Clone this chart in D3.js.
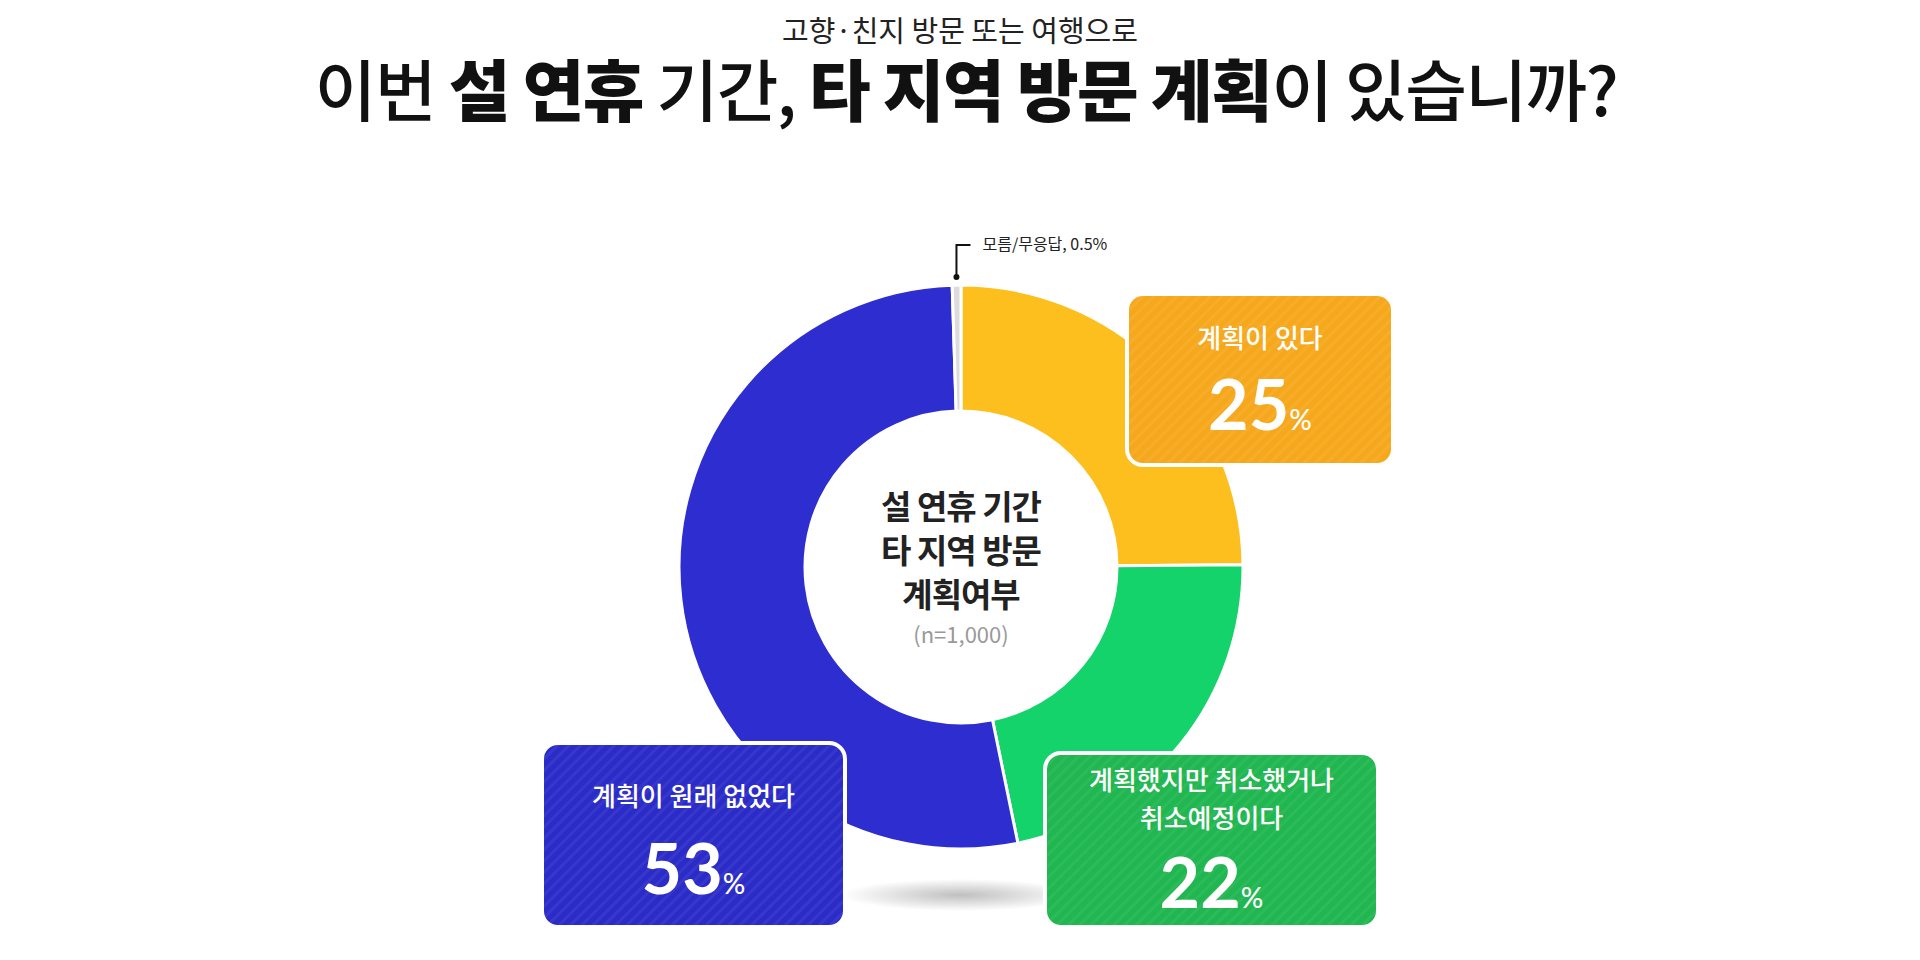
<!DOCTYPE html>
<html><head><meta charset="utf-8">
<script src="https://cdn.jsdelivr.net/npm/d3@7"></script>
<style>body{margin:0;background:#fff}svg{display:block;font-family:"Noto Sans CJK KR","Noto Sans",sans-serif}</style>
</head><body><svg width="1920" height="960"></svg>
<script>
const categories = ["계획이 있다", "계획했지만 취소했거나 취소예정이다", "계획이 원래 없었다", "모름/무응답"];
const values = [25, 22, 53, 0.5];
const sliceColors = ["#fdbf1e", "#13d36a", "#2e2dd0", "#dcdcdc"];
const boxColors = ["#f6a81c", "#20b650", "#2b2bc8"];

const svg = d3.select("svg");
const cx = 961, cy = 567, R = 282, r = 156;

// titles
svg.append("text").attr("x", 960).attr("y", 42).attr("text-anchor", "middle")
  .attr("font-size", 29).attr("fill", "#222").text("고향·친지 방문 또는 여행으로");
const t = svg.append("text").attr("x", 966).attr("y", 116).attr("text-anchor", "middle")
  .attr("font-size", 67).attr("fill", "#111").attr("letter-spacing", -1.5);
[["이번 ", 500], ["설 연휴", 900], [" 기간, ", 500], ["타 지역 방문 계획", 900], ["이 있습니까?", 500]]
  .forEach(([s, w]) => t.append("tspan").attr("font-weight", w).text(s));

const defs = svg.append("defs");
defs.append("radialGradient").attr("id", "sh").selectAll("stop")
  .data([[0, 0.25], [1, 0]]).enter().append("stop")
  .attr("offset", d => d[0]).attr("stop-color", "#000").attr("stop-opacity", d => d[1]);
const pat = defs.append("pattern").attr("id", "stripe").attr("width", 8).attr("height", 8)
  .attr("patternUnits", "userSpaceOnUse").attr("patternTransform", "rotate(45)");
pat.append("rect").attr("width", 3).attr("height", 8).attr("fill", "#fff").attr("opacity", 0.06);

svg.append("ellipse").attr("cx", cx).attr("cy", 895).attr("rx", 120).attr("ry", 16).attr("fill", "url(#sh)");

// donut
const pie = d3.pie().sort(null).value(d => d)(values);
const arc = d3.arc().innerRadius(r).outerRadius(R);
const g = svg.append("g").attr("transform", `translate(${cx},${cy})`);
g.selectAll("path").data(pie).enter().append("path")
  .attr("d", arc).attr("fill", (d, i) => sliceColors[i])
  .attr("stroke", "#fff").attr("stroke-width", 3);

// center text
["설 연휴 기간", "타 지역 방문", "계획여부"].forEach((s, i) =>
  g.append("text").attr("y", -48 + i * 44).attr("text-anchor", "middle")
    .attr("font-size", 33).attr("font-weight", 700).attr("letter-spacing", -1)
    .attr("fill", "#222").text(s));
g.append("text").attr("y", 76).attr("text-anchor", "middle").attr("font-size", 22)
  .attr("fill", "#999").text("(n=1,000)");

// small-answer callout
const a0 = pie[3].startAngle, a1 = pie[3].endAngle, am = (a0 + a1) / 2;
const px = cx + Math.sin(am) * (R + 8), py = cy - Math.cos(am) * (R + 8);
svg.append("circle").attr("cx", px).attr("cy", py).attr("r", 3).attr("fill", "#111");
svg.append("path").attr("d", `M${px},${py}V${py - 32}H${px + 14}`)
  .attr("fill", "none").attr("stroke", "#111").attr("stroke-width", 2);
svg.append("text").attr("x", px + 26).attr("y", py - 27).attr("font-size", 16)
  .attr("fill", "#222").text(`${categories[3]}, ${values[3]}%`);

// boxes
const boxes = [
  { i: 0, x: 1127, y: 294, w: 266, h: 171, lines: ["계획이 있다"], ly: 348, ny: 430 },
  { i: 1, x: 1045, y: 753, w: 333, h: 174, lines: ["계획했지만 취소했거나", "취소예정이다"], ly: 790, ny: 908 },
  { i: 2, x: 542, y: 743, w: 303, h: 184, lines: ["계획이 원래 없었다"], ly: 806, ny: 894 }
];
boxes.forEach(b => {
  const bg = svg.append("g");
  bg.append("rect").attr("x", b.x).attr("y", b.y).attr("width", b.w).attr("height", b.h)
    .attr("rx", 16).attr("fill", boxColors[b.i]).attr("stroke", "#fff").attr("stroke-width", 4);
  bg.append("rect").attr("x", b.x).attr("y", b.y).attr("width", b.w).attr("height", b.h)
    .attr("rx", 16).attr("fill", "url(#stripe)");
  const mx = b.x + b.w / 2;
  b.lines.forEach((s, k) => bg.append("text").attr("x", mx).attr("y", b.ly + k * 38)
    .attr("text-anchor", "middle").attr("font-size", 26).attr("font-weight", 500)
    .attr("fill", "#fff").text(s));
  const nt = bg.append("text").attr("x", mx).attr("y", b.ny).attr("text-anchor", "middle")
    .attr("fill", "#fff").attr("font-family", "Lato, 'Noto Sans', sans-serif");
  nt.append("tspan").attr("font-size", 70).attr("font-weight", 700).text(Math.round(values[b.i]));
  nt.append("tspan").attr("font-size", 28).attr("font-weight", 500).text("%");
});
</script></body></html>
